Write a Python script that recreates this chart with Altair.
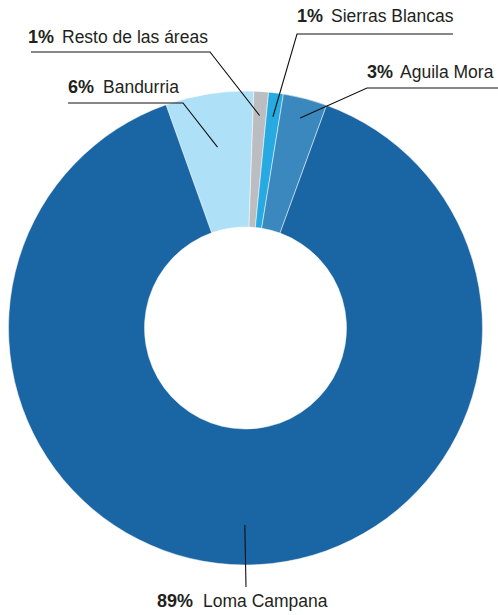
import math
import pandas as pd
import altair as alt

# ---- data ----
areas = ["Bandurria", "Resto de las áreas", "Sierras Blancas", "Aguila Mora", "Loma Campana"]
shares = [6, 1, 1, 3, 89]
pct_labels = ["6%", "1%", "1%", "3%", "89%"]
colors = ["#aee0f8", "#bcbdc0", "#27aae1", "#3a88bd", "#1a65a3"]

# ---- layout (pixels) ----
W, H = 498, 615
CX, CY = 245.5, 328
R_OUT, R_IN = 237, 101
START_DEG = -19.6
label_x = [68, 28, 297, 367, 157]
label_y = [93, 43, 22, 78, 607]
name_dx = [35, 34, 34, 33, 46]
# leader path before the slice point: list of (x, y) points
leader_head = [
    [(68, 103), (183, 103)],
    [(31, 52), (210, 52)],
    [(453, 34), (297, 34)],
    [(498, 88), (367, 88)],
    [(246, 587)],
]
leader_r = [183, 213, 213, 217, 197]

total = sum(shares)
slices = pd.DataFrame({"area": areas, "share": shares, "seq": list(range(len(areas)))})

# label table
labels = pd.DataFrame({
    "area": areas,
    "pct": pct_labels,
    "x": label_x,
    "y": label_y,
    "xn": [x + d for x, d in zip(label_x, name_dx)],
})

# leader lines, ending at each slice's middle angle
rows = []
cum = 0
for i, (a, s) in enumerate(zip(areas, shares)):
    mid = math.radians(START_DEG + (cum + s / 2) / total * 360)
    cum += s
    pts = list(leader_head[i]) + [(CX + leader_r[i] * math.sin(mid), CY - leader_r[i] * math.cos(mid))]
    for j, (px, py) in enumerate(pts):
        rows.append({"area": a, "k": j, "x": px, "y": py})
leaders = pd.DataFrame(rows)

a0 = math.radians(START_DEG)
xs = alt.Scale(domain=[0, W], nice=False, zero=False)
ys = alt.Scale(domain=[0, H], nice=False, zero=False, reverse=True)

donut = alt.Chart(slices).mark_arc(
    outerRadius=R_OUT, innerRadius=R_IN, stroke="white", strokeWidth=0.5
).encode(
    theta=alt.Theta("share:Q", stack=True, scale=alt.Scale(range=[a0, a0 + 2 * math.pi])),
    order=alt.Order("seq:Q"),
    color=alt.Color("area:N", scale=alt.Scale(domain=areas, range=colors), legend=None),
    x=alt.value(CX),
    y=alt.value(CY),
)

lines = alt.Chart(leaders).mark_line(color="#111111", strokeWidth=1.1).encode(
    x=alt.X("x:Q", scale=xs, axis=None),
    y=alt.Y("y:Q", scale=ys, axis=None),
    detail="area:N",
    order="k:Q",
)

pct_text = alt.Chart(labels).mark_text(
    font="Liberation Sans", fontSize=18, fontWeight="bold",
    align="left", baseline="alphabetic", color="#231f20"
).encode(
    x=alt.X("x:Q", scale=xs, axis=None),
    y=alt.Y("y:Q", scale=ys, axis=None),
    text="pct:N",
)

name_text = alt.Chart(labels).mark_text(
    font="Liberation Sans", fontSize=17.5,
    align="left", baseline="alphabetic", color="#231f20"
).encode(
    x=alt.X("xn:Q", scale=xs, axis=None),
    y=alt.Y("y:Q", scale=ys, axis=None),
    text="area:N",
)

chart = alt.layer(donut, lines, pct_text, name_text).properties(
    width=W, height=H, autosize=alt.AutoSizeParams(type="none"), padding=0,
    background="white",
).configure_view(stroke=None)

chart.save("out.html", embed_options={"renderer": "svg", "actions": False})
